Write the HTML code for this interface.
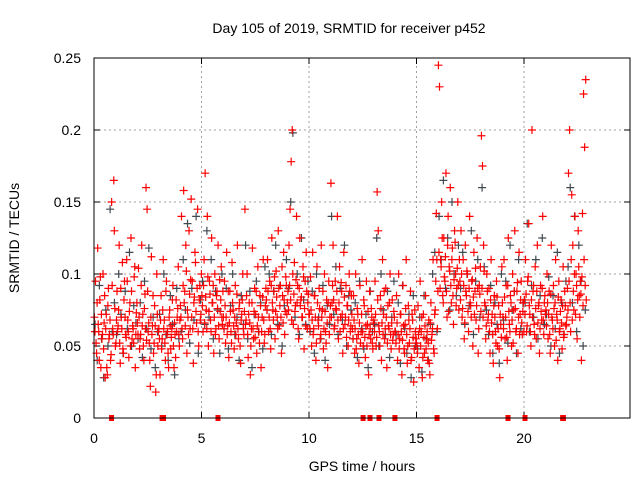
<!DOCTYPE html>
<html><head><meta charset="utf-8"><style>
html,body{margin:0;padding:0;background:#fff}
svg{display:block;font-family:"Liberation Sans",sans-serif}
</style></head><body>
<svg id="chart" width="640" height="480" viewBox="0 0 640 480">
<text x="349" y="33" text-anchor="middle" font-size="14">Day 105 of 2019, SRMTID for receiver p452</text>
<text x="362" y="471" text-anchor="middle" font-size="14">GPS time / hours</text>
<text transform="translate(19,238) rotate(-90)" text-anchor="middle" font-size="14">SRMTID / TECUs</text>
<g id="grid"></g><g id="ticks"></g><g id="gray"></g><g id="red"></g><g id="gaps"></g>
<rect x="94" y="58" width="536" height="360" fill="none" stroke="#000" stroke-width="1"/>
</svg>
<script>
const xTicks=[0,5,10,15,20];
const yTicks=[0,0.05,0.1,0.15,0.2,0.25];
const yTickLabels=["0","0.05","0.1","0.15","0.2","0.25"];
const redStep=0.05;
const redValues=[
70,95,45,118,60,82,35,55,100,66,28,72,30,90,58,40,150,62,165,76,
52,88,64,120,38,70,108,45,95,58,110,68,42,80,125,55,62,98,35,73,
66,104,48,58,120,72,40,86,160,145,60,52,22,112,64,45,78,18,100,50,
62,30,85,55,110,68,40,95,60,35,75,48,62,92,35,58,82,70,105,50,
78,140,55,158,88,120,45,70,130,62,152,95,38,84,108,66,145,50,92,72,
85,60,110,170,75,140,50,95,68,125,80,45,100,62,88,120,55,74,105,65,
70,95,52,115,64,42,88,60,108,75,48,92,66,120,55,80,38,72,100,58,
145,68,100,42,80,30,62,118,55,90,72,45,105,60,85,35,70,110,52,78,
82,110,60,95,48,125,75,88,55,102,70,130,64,92,45,85,115,58,98,72,
88,120,145,178,200,65,108,78,140,92,55,125,82,70,105,48,95,115,62,86,
72,98,50,115,62,85,40,105,68,90,55,120,75,48,100,60,82,35,95,70,
163,80,120,62,95,75,140,55,105,70,88,45,115,65,92,78,50,100,60,85,
62,85,45,100,55,72,38,92,60,110,50,78,42,95,65,30,88,55,70,48,
68,95,50,157,130,60,85,40,110,72,55,90,35,78,62,100,48,82,58,70,
60,85,40,100,55,72,30,92,48,65,110,38,78,52,88,42,68,25,75,55,
50,78,35,95,60,28,72,45,85,55,40,68,30,80,58,110,45,75,142,62,
245,230,110,150,85,125,95,170,70,140,105,160,80,118,65,130,100,90,150,75,
95,130,70,110,55,120,85,100,60,140,78,95,50,115,88,68,125,45,92,105,
196,175,120,80,55,100,68,90,45,110,72,38,85,60,95,50,78,28,65,105,
70,110,55,92,40,125,65,85,50,100,75,130,60,88,45,115,72,95,58,80,
82,110,60,95,135,72,50,200,88,65,105,55,120,78,45,92,68,140,58,85,
75,100,55,88,45,120,68,92,50,110,72,40,95,62,82,48,105,58,78,65,
90,170,200,60,155,120,75,140,100,55,130,85,95,40,142,225,188,235];
const red2Values=[
60,52,80,65,40,98,72,58,48,85,62,35,78,55,68,44,92,58,130,50,
68,60,75,52,90,62,48,82,70,56,95,60,74,50,88,64,52,105,58,80,
58,70,55,92,64,50,76,62,54,88,66,40,70,58,85,52,64,30,72,60,
55,68,48,75,62,52,88,58,45,70,64,56,82,50,66,42,60,76,58,68,
70,62,92,80,64,102,75,58,86,96,70,62,80,115,74,90,60,82,68,100,
78,92,66,84,62,98,74,86,60,80,92,70,58,85,76,64,96,82,70,88,
62,78,70,58,88,66,74,52,80,64,70,58,86,62,76,50,68,82,62,74,
65,85,58,72,66,50,80,62,74,56,88,64,70,52,78,60,84,68,58,90,
75,88,70,62,92,80,68,98,74,84,62,90,78,70,105,66,82,74,92,80,
75,92,82,68,100,86,74,96,80,62,90,78,84,70,98,76,64,88,80,72,
62,75,68,58,85,70,52,80,64,76,58,70,88,62,74,52,66,80,58,78,
70,92,82,64,76,88,68,80,60,94,72,62,84,70,56,78,68,88,64,72,
55,68,62,48,76,58,66,52,72,60,82,56,64,50,74,58,62,76,52,66,
60,72,56,82,64,50,76,66,58,88,62,70,52,64,80,58,66,54,74,60,
52,66,58,48,72,60,54,64,45,76,58,50,68,62,40,72,56,48,60,52,
45,58,62,50,70,42,56,64,48,60,52,38,66,54,62,48,72,95,110,88,
115,90,105,125,80,98,112,88,120,74,102,92,110,85,96,122,78,104,92,110,
82,100,76,92,66,88,102,74,90,80,70,96,84,72,104,78,90,62,86,74,
90,70,102,78,64,88,72,60,82,66,58,78,70,52,84,62,48,72,56,80,
62,84,70,56,92,74,60,80,68,52,88,76,62,94,70,58,82,66,74,60,
72,86,64,98,78,60,82,70,92,58,76,88,66,80,62,74,90,68,80,72,
64,80,72,58,86,70,62,76,80,54,68,84,60,74,66,78,56,88,64,70,
75,95,80,110,68,88,100,72,92,82,105,70,86,98,78,110,92,82];
const grayStep=0.1;
const grayValues=[
65,40,92,55,28,75,50,145,60,80,
58,100,72,45,88,62,115,50,78,66,
55,80,42,95,62,118,48,70,35,60,
72,50,100,58,40,85,65,30,90,55,
60,110,75,135,52,90,68,140,45,82,
95,65,130,70,110,55,88,75,45,100,
62,90,48,78,100,58,70,40,85,65,
120,55,88,35,72,95,60,80,48,105,
75,100,58,88,120,65,92,50,78,110,
90,150,198,70,100,58,125,82,65,95,
60,88,45,100,70,55,92,40,78,65,
140,72,105,58,90,68,120,50,85,75,
55,80,42,95,62,48,72,35,88,60,
65,125,50,100,75,58,88,42,70,95,
58,80,38,92,62,45,72,28,85,50,
48,70,32,85,55,40,65,100,115,60,
140,110,165,90,125,75,150,100,85,120,
90,115,65,100,78,130,58,95,110,70,
160,105,75,58,92,45,80,65,38,100,
68,95,52,120,75,88,45,110,62,80,
80,135,60,92,70,110,55,85,125,65,
72,98,50,85,62,115,45,80,58,95,
105,160,80,140,60,120,95,50,75];
const gapStart=[0.7,3.05,5.65,12.4,12.72,13.14,13.88,15.84,19.14,19.93,21.68];
const gapEnd=[0.78,3.35,5.72,12.47,12.79,13.21,13.95,15.91,19.21,20.0,21.95];

const NS="http://www.w3.org/2000/svg";
const X0=94,X1=630,Y0=418,Y1=58,XMAX=24.93,YMAX=0.25;
function sx(v){return X0+(X1-X0)*v/XMAX;}
function sy(v){return Y0-(Y0-Y1)*v/YMAX;}
function mk(tag,attrs,parent){const e=document.createElementNS(NS,tag);for(const k in attrs)e.setAttribute(k,attrs[k]);parent.appendChild(e);return e;}
const grid=document.getElementById('grid'),ticks=document.getElementById('ticks');
xTicks.forEach(t=>{
  const x=sx(t);
  if(t>0){const g=mk('line',{x1:x,x2:x,y1:Y0,y2:Y1,stroke:'#a0a0a0','stroke-dasharray':'2,3'},grid);
  
  }
  mk('line',{x1:x,x2:x,y1:Y0,y2:Y0-6,stroke:'#000'},ticks);
  mk('line',{x1:x,x2:x,y1:Y1,y2:Y1+6,stroke:'#000'},ticks);
  const l=mk('text',{x:x,y:443,'text-anchor':'middle','font-size':'14'},ticks);
  l.textContent=String(t);
  
  
});
yTicks.forEach((t,i)=>{
  const y=sy(t);
  if(t>0&&t<YMAX){const g=mk('line',{x1:X0,x2:X1,y1:y,y2:y,stroke:'#a0a0a0','stroke-dasharray':'2,3'},grid);
  
  }
  mk('line',{x1:X0,x2:X0+6,y1:y,y2:y,stroke:'#000'},ticks);
  mk('line',{x1:X1,x2:X1-6,y1:y,y2:y,stroke:'#000'},ticks);
  const l=mk('text',{x:81,y:y+5,'text-anchor':'end','font-size':'14'},ticks);
  l.textContent=yTickLabels[i];
  
  
});
function plus(g,x,y,c){
  return mk('path',{d:`M${x-4},${y}h8M${x},${y-4}v8`,stroke:c,'stroke-width':'1.2',fill:'none'},g);
}
const gg=document.getElementById('gray');
grayValues.forEach((v,i)=>{
  const p=plus(gg,sx(0.05+i*grayStep),sy(v/1000),'#404850');
  
  
});
const rg=document.getElementById('red');
redValues.forEach((v,i)=>{
  const p=plus(rg,sx(0.02+i*redStep),sy(v/1000),'#ff0000');
  
  
});
red2Values.forEach((v,i)=>{
  const p=plus(rg,sx(0.045+i*redStep),sy(v/1000),'#ff0000');
  
  
});
const gp=document.getElementById('gaps');
gapStart.forEach((s,i)=>{
  const x=sx(s),w=Math.max(5,sx(gapEnd[i])-x);
  const r=mk('rect',{x:x,y:Y0-3,width:w,height:6,fill:'#ff0000'},gp);
  
  
});
</script>
</body></html>
